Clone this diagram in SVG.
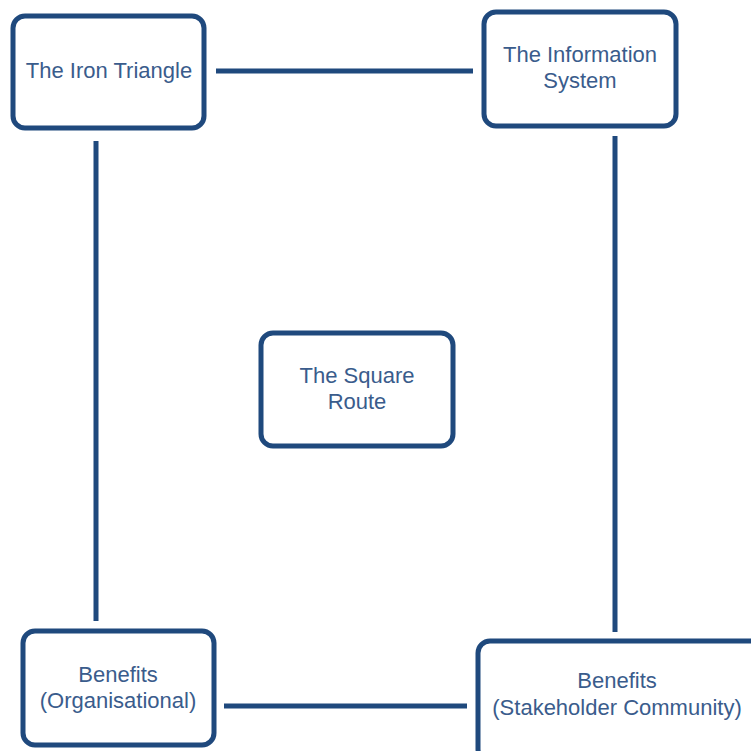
<svg xmlns="http://www.w3.org/2000/svg" width="751" height="751" viewBox="0 0 751 751">
<style>
.box{fill:#ffffff;stroke:#1f497d;stroke-width:5}
.lbl{font-family:"Liberation Sans",Arial,sans-serif;font-size:22px;fill:#3a5c8c;text-anchor:middle}
.con{stroke:#1f497d;stroke-width:5;fill:none}
</style>
<rect width="751" height="751" fill="#ffffff"/>
<g id="connectors">
<line class="con" x1="216" y1="71" x2="473" y2="71"/>
<line class="con" x1="96" y1="141" x2="96" y2="621"/>
<line class="con" x1="615" y1="136" x2="615" y2="632"/>
<line class="con" x1="224" y1="706" x2="467" y2="706"/>
</g>
<g id="iron-triangle">
<rect class="box" x="13" y="16" width="191" height="112" rx="12"/>
<text class="lbl" x="109" y="78">The Iron Triangle</text>
</g>
<g id="information-system">
<rect class="box" x="484" y="12" width="192" height="114" rx="12"/>
<text class="lbl" x="580" y="62">The Information</text>
<text class="lbl" x="580" y="88">System</text>
</g>
<g id="square-route">
<rect class="box" x="261" y="333" width="192" height="113" rx="12"/>
<text class="lbl" x="357" y="383">The Square</text>
<text class="lbl" x="357" y="409">Route</text>
</g>
<g id="benefits-organisational">
<rect class="box" x="23" y="631" width="191" height="114" rx="12"/>
<text class="lbl" x="118" y="682">Benefits</text>
<text class="lbl" x="118" y="708">(Organisational)</text>
</g>
<g id="benefits-stakeholder">
<rect class="box" x="478" y="641" width="290" height="120" rx="12"/>
<text class="lbl" x="617" y="688">Benefits</text>
<text class="lbl" x="617" y="715">(Stakeholder Community)</text>
</g>
</svg>
